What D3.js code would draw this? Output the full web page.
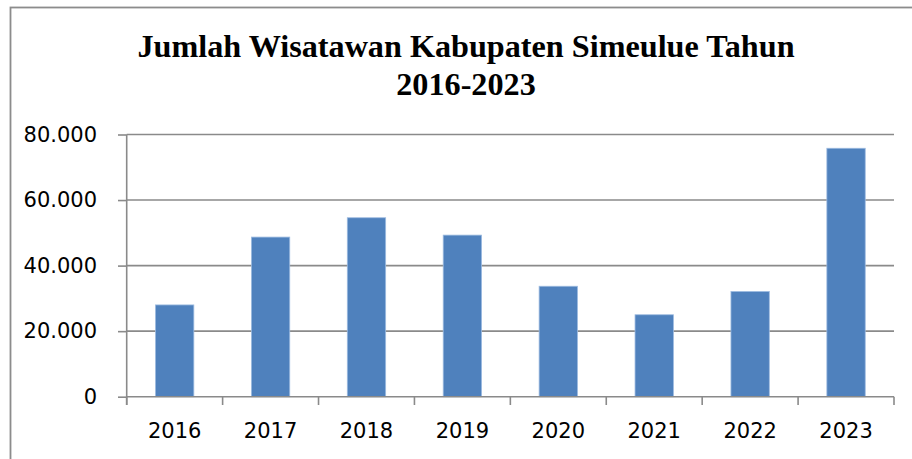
<!DOCTYPE html>
<html>
<head>
<meta charset="utf-8">
<script src="https://cdn.jsdelivr.net/npm/d3@7"></script>
<style>
  body { margin: 0; background: #fff; }
  .tick text { fill: #000; }
</style>
</head>
<body>
<div id="chart"></div>
<script>
// data
var years = ["2016", "2017", "2018", "2019", "2020", "2021", "2022", "2023"];
var visitors = [28000, 48700, 54600, 49300, 33700, 25000, 32100, 75800];
var yTicks = [0, 20000, 40000, 60000, 80000];
var titleLines = ["Jumlah Wisatawan Kabupaten Simeulue Tahun", "2016-2023"];

var svgWidth = 912;
var svgHeight = 459;

var margin = { top: 134.5, right: 18, bottom: 62.3, left: 126.7 };
var width = svgWidth - margin.left - margin.right;
var height = svgHeight - margin.top - margin.bottom;

var svg = d3.select("#chart")
  .append("svg")
  .attr("width", svgWidth)
  .attr("height", svgHeight);

// outer frame (runs off the right and bottom edges)
svg.append("rect")
  .attr("x", 10.5)
  .attr("y", 7.5)
  .attr("width", 940)
  .attr("height", 480)
  .attr("fill", "none")
  .attr("stroke", "#8c8c8c")
  .attr("stroke-width", 1.8);

// title
svg.append("text")
  .attr("x", 466)
  .attr("text-anchor", "middle")
  .style("font-family", "'Liberation Serif', 'Times New Roman', serif")
  .style("font-weight", "bold")
  .style("font-size", "32.2px")
  .selectAll("tspan")
  .data(titleLines)
  .enter()
  .append("tspan")
  .attr("x", 466)
  .attr("y", (d, i) => 57.3 + i * 37.7)
  .text(d => d);

var chartGroup = svg.append("g")
  .attr("transform", `translate(${margin.left}, ${margin.top})`);

var x = d3.scaleBand()
  .domain(years)
  .range([0, width])
  .paddingInner(0.6)
  .paddingOuter(0.3);

var y = d3.scaleLinear()
  .domain([0, 80000])
  .range([height, 0]);

var locale = d3.formatLocale({ decimal: ",", thousands: ".", grouping: [3], currency: ["Rp", ""] });
var fmt = locale.format(",");

var gridColor = "#8a8a8a";

// gridlines
chartGroup.selectAll(".grid")
  .data(yTicks.filter(d => d > 0))
  .enter()
  .append("line")
  .attr("class", "grid")
  .attr("x1", 0)
  .attr("x2", width)
  .attr("y1", d => y(d))
  .attr("y2", d => y(d))
  .attr("stroke", gridColor)
  .attr("stroke-width", 1.6);

// bars
chartGroup.selectAll(".bar")
  .data(visitors)
  .enter()
  .append("rect")
  .attr("class", "bar")
  .attr("x", (d, i) => x(years[i]))
  .attr("y", d => y(d))
  .attr("width", x.bandwidth())
  .attr("height", d => height - y(d))
  .attr("fill", "#4f81bd")
  .attr("stroke", "#9dbbe0")
  .attr("stroke-width", 0.8);

// left axis
var leftAxis = d3.axisLeft(y)
  .tickValues(yTicks)
  .tickFormat(fmt)
  .tickSizeInner(8.7)
  .tickSizeOuter(0)
  .tickPadding(21);

var yAxisG = chartGroup.append("g").call(leftAxis);
yAxisG.select(".domain").remove();
yAxisG.selectAll(".tick line").attr("stroke", gridColor).attr("stroke-width", 1.6);
yAxisG.selectAll(".tick text")
  .style("font-family", "'DejaVu Sans', sans-serif")
  .style("font-size", "21px");

// vertical axis line, a little past zero
chartGroup.append("line")
  .attr("x1", 0).attr("x2", 0)
  .attr("y1", 0).attr("y2", height + 8.3)
  .attr("stroke", gridColor)
  .attr("stroke-width", 1.6);

// bottom axis
var bottomAxis = d3.axisBottom(x).tickSize(0);
var xAxisG = chartGroup.append("g")
  .attr("transform", `translate(0, ${height})`)
  .call(bottomAxis);
xAxisG.select(".domain").remove();
xAxisG.selectAll(".tick text")
  .attr("y", 41.8)
  .attr("dy", 0)
  .style("font-family", "'DejaVu Sans', sans-serif")
  .style("font-size", "21px");

chartGroup.append("line")
  .attr("x1", 0).attr("x2", width)
  .attr("y1", height).attr("y2", height)
  .attr("stroke", gridColor)
  .attr("stroke-width", 1.6);

// category separators on the x axis
var bounds = d3.range(years.length + 1).map(i => i * x.step());
chartGroup.selectAll(".sep")
  .data(bounds)
  .enter()
  .append("line")
  .attr("class", "sep")
  .attr("x1", d => d).attr("x2", d => d)
  .attr("y1", height).attr("y2", height + 8.3)
  .attr("stroke", gridColor)
  .attr("stroke-width", 1.6);
</script>
</body>
</html>
